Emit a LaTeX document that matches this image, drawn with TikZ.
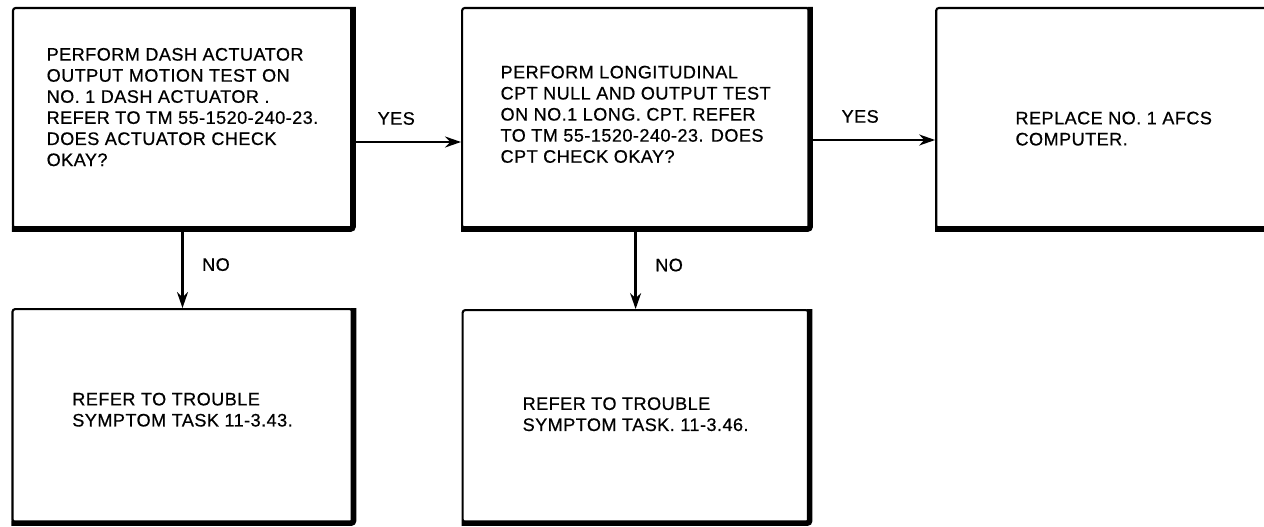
\documentclass[tikz,border=0pt]{standalone}
\usepackage{fontspec}
\setmainfont{Liberation Sans}[LetterSpace=2.5,FakeBold=0.6]
\usepackage{tikz}
\usetikzlibrary{arrows.meta,positioning}
\tikzset{
  tskbox/.style={draw,line width=1.2pt,rounded corners=1.5pt,minimum width=67.8mm,minimum height=44mm,inner sep=0pt,align=left,font=\fontsize{10.3}{12}\selectfont},
  tskedge/.style={line width=3.2pt,rounded corners=1.5pt},
  tskflow/.style={-{Stealth[length=3.2mm,width=2.2mm]},line width=1.3pt},
  tsklabel/.style={font=\fontsize{10.3}{12}\selectfont,inner sep=2pt},
}
\begin{document}
\begin{tikzpicture}
\useasboundingbox (0,0) rectangle (25.28,-10.54);
 % troubleshooting steps
\node[tskbox,text depth=4.4mm] (dash) at (3.65,-2.36){PERFORM DASH ACTUATOR\\OUTPUT MOTION TEST ON\\NO. 1 DASH ACTUATOR .\\REFER TO TM 55-1520-240-23.\\DOES ACTUATOR CHECK\\OKAY?};
\node[tskbox,text depth=1.5mm,minimum width=69.4mm,right=21.6mm of dash] (cpt){PERFORM LONGITUDINAL\\CPT NULL AND OUTPUT TEST\\ON NO.1 LONG. CPT. REFER\\TO TM 55-1520-240-23. DOES\\CPT CHECK OKAY?};
\node[tskbox,text height=11mm,minimum width=71mm,right=25mm of cpt] (afcs){REPLACE NO. 1 AFCS\\COMPUTER.};
\node[tskbox,text depth=2.4mm,minimum width=68mm,minimum height=42.6mm,below=15.8mm of dash] (sym43){REFER TO TROUBLE\\SYMPTOM TASK 11-3.43.};
\node[tskbox,text depth=0.8mm,minimum width=69.2mm,minimum height=42.4mm,below=16mm of cpt] (sym46){REFER TO TROUBLE\\SYMPTOM TASK. 11-3.46.};
\foreach \b in {dash,cpt,afcs,sym43,sym46}
  \draw[tskedge] (\b.south west) -- (\b.south east) -- (\b.north east);
\draw[tskflow]([yshift=-4.8mm]dash.east)--node[tsklabel,above=2.5mm,pos=0.4]{YES}([yshift=-4.8mm]cpt.west);
\draw[tskflow]([yshift=-4.4mm]cpt.east)--node[tsklabel,above=2.5mm,pos=0.4]{YES}([yshift=-4.4mm]afcs.west);
\draw[tskflow](dash)--node[tsklabel,right=3mm,pos=0.45]{NO}(sym43);
\draw[tskflow](cpt)--node[tsklabel,right=3mm,pos=0.45]{NO}(sym46);
\end{tikzpicture}
\end{document}
